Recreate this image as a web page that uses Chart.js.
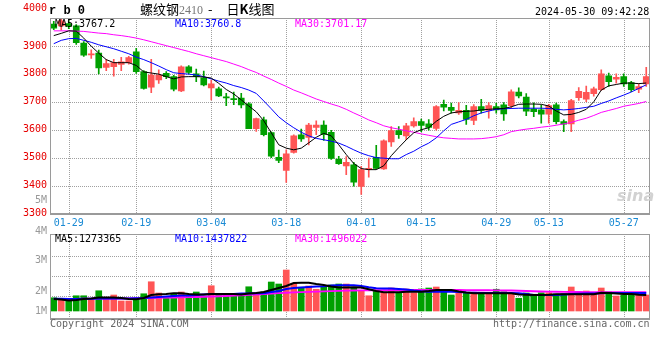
<!DOCTYPE html>
<html lang="zh-CN"><head><meta charset="utf-8">
<script src="https://cdn.jsdelivr.net/npm/chart.js@4.4.1/dist/chart.umd.min.js"></script>
<style>
html,body{margin:0;padding:0;background:#fff;}
body{width:660px;height:360px;position:relative;overflow:hidden;}
canvas{position:absolute;left:0;}
.t{position:absolute;white-space:pre;font-family:'DejaVu Sans Mono',monospace;font-size:10px;line-height:10px;color:#000;}
</style></head><body>
<canvas id="vol" width="660" height="140" style="top:190px"></canvas>
<canvas id="main" width="660" height="232" style="top:0px"></canvas>

<div class="t" style="left:49px;top:5px;font-family:'Liberation Mono',monospace;font-weight:bold;font-size:12px;line-height:12px;">r b 0</div>
<div class="t" style="left:140px;top:2px;font-family:'Noto Sans CJK SC',sans-serif;font-size:13px;line-height:14px;">螺纹钢<span style="font-family:'Liberation Serif',serif;color:#777;font-size:12px;">2410</span><span style="margin:0 14px 0 5px;">-</span>日<b>K</b>线图</div>
<div class="t" style="left:535px;top:7px;">2024-05-30 09:42:28</div>

<div class="t" style="left:55px;top:19px;color:#000;">MA5:3767.2</div>
<div class="t" style="left:175px;top:19px;color:#0000ff;">MA10:3760.8</div>
<div class="t" style="left:295px;top:19px;color:#ff00ff;">MA30:3701.17</div>

<div class="t" style="left:55px;top:234px;color:#000;">MA5:1273365</div>
<div class="t" style="left:175px;top:234px;color:#0000ff;">MA10:1437822</div>
<div class="t" style="left:295px;top:234px;color:#ff00ff;">MA30:1496022</div>

<div class="t" style="left:50px;top:319px;color:#666;">Copyright 2024 SINA.COM</div>
<div class="t" style="left:493px;top:319px;color:#666;">http://finance.sina.com.cn</div>
<div class="t" style="left:617px;top:188px;font-family:'DejaVu Sans',sans-serif;font-style:italic;font-weight:bold;font-size:16px;line-height:16px;color:#d2d2d2;">sina</div>

<script>
// ---- data ----
const dates = ['01-25','01-26','01-29','01-30','01-31','02-01','02-02','02-05','02-06','02-07',
  '02-08','02-19','02-20','02-21','02-22','02-23','02-26','02-27','02-28','02-29',
  '03-01','03-04','03-05','03-06','03-07','03-08','03-11','03-12','03-13','03-14',
  '03-15','03-18','03-19','03-20','03-21','03-22','03-25','03-26','03-27','03-28',
  '03-29','04-01','04-02','04-03','04-08','04-09','04-10','04-11','04-12','04-15',
  '04-16','04-17','04-18','04-19','04-22','04-23','04-24','04-25','04-26','04-29',
  '04-30','05-06','05-07','05-08','05-09','05-10','05-13','05-14','05-15','05-16',
  '05-17','05-20','05-21','05-22','05-23','05-24','05-27','05-28','05-29','05-30'];
const tickDates = ['01-29','02-19','03-04','03-18','04-01','04-15','04-29','05-13','05-27'];

const open = [3978,3972,3980,3972,3910,3868,3874,3823,3826,3834,
  3840,3879,3808,3752,3778,3802,3790,3739,3825,3800,
  3786,3750,3746,3718,3711,3713,3693,3604,3635,3590,
  3501,3454,3519,3582,3572,3608,3617,3591,3495,3470,
  3474,3397,3458,3501,3460,3556,3597,3578,3614,3629,
  3621,3605,3691,3680,3660,3669,3633,3683,3669,3683,
  3689,3686,3735,3717,3674,3671,3656,3689,3629,3621,
  3715,3709,3729,3743,3793,3781,3790,3769,3745,3764];
const high = [3988,3998,3990,3976,3916,3886,3885,3852,3852,3859,
  3863,3891,3812,3852,3814,3808,3795,3829,3830,3817,
  3810,3778,3753,3730,3735,3730,3697,3642,3645,3592,
  3527,3528,3582,3602,3623,3632,3632,3598,3505,3504,
  3483,3469,3498,3544,3564,3611,3611,3623,3643,3638,
  3636,3686,3706,3695,3697,3687,3690,3709,3697,3695,
  3697,3743,3750,3729,3696,3688,3691,3695,3635,3709,
  3751,3756,3753,3814,3803,3800,3800,3773,3764,3823];
const low = [3958,3956,3962,3905,3862,3855,3800,3811,3792,3811,
  3835,3802,3745,3733,3766,3783,3739,3736,3800,3772,
  3757,3707,3718,3686,3690,3678,3604,3594,3578,3500,
  3482,3411,3516,3558,3546,3582,3562,3494,3476,3439,
  3398,3368,3430,3459,3458,3540,3569,3564,3609,3593,
  3598,3598,3667,3659,3655,3619,3618,3659,3641,3659,
  3633,3675,3714,3650,3647,3623,3623,3621,3593,3593,
  3705,3700,3720,3741,3755,3767,3755,3736,3733,3755];
const close = [3964,3990,3970,3912,3867,3871,3821,3837,3840,3843,
  3858,3808,3748,3796,3796,3790,3745,3825,3805,3790,
  3760,3764,3721,3714,3708,3689,3604,3640,3582,3505,
  3490,3514,3578,3567,3617,3617,3583,3497,3478,3483,
  3412,3457,3462,3461,3560,3597,3582,3614,3629,3615,
  3608,3683,3681,3669,3669,3637,3683,3669,3686,3671,
  3657,3736,3721,3666,3665,3656,3686,3629,3620,3704,
  3737,3734,3746,3800,3772,3788,3764,3743,3754,3790];

const ma5 = [3937,3945,3954,3953,3928,3899,3874,3851,3840,3840,
  3840,3830,3807,3803,3799,3790,3782,3789,3790,3790,
  3789,3785,3766,3744,3728,3707,3685,3664,3632,3589,
  3546,3534,3528,3534,3553,3573,3587,3578,3546,3511,
  3479,3461,3457,3457,3471,3507,3536,3564,3589,3600,
  3607,3630,3648,3660,3664,3666,3667,3671,3673,3675,
  3676,3682,3691,3692,3692,3691,3685,3667,3653,3655,
  3662,3673,3700,3742,3757,3762,3767,3767,3765,3767.2];
const ma10 = [3908,3920,3926,3927,3920,3913,3904,3897,3890,3881,
  3872,3860,3851,3840,3828,3815,3804,3801,3799,3796,
  3790,3782,3774,3767,3758,3751,3742,3730,3703,3675,
  3646,3625,3607,3591,3578,3569,3564,3559,3552,3541,
  3528,3516,3507,3500,3498,3496,3496,3511,3523,3539,
  3552,3571,3596,3619,3628,3637,3650,3660,3667,3673,
  3675,3676,3677,3677,3677,3677,3676,3673,3671,3673,
  3676,3680,3684,3694,3703,3714,3724,3735,3748,3760.8];
const ma30 = [3954,3954,3954,3953,3952,3949,3946,3944,3940,3937,
  3933,3928,3922,3915,3908,3901,3894,3887,3880,3872,
  3865,3858,3851,3844,3835,3826,3815,3805,3792,3780,
  3767,3755,3742,3732,3721,3710,3701,3692,3684,3673,
  3660,3648,3635,3625,3614,3607,3602,3596,3591,3585,
  3580,3575,3571,3569,3567,3567,3567,3568,3571,3575,
  3582,3593,3598,3602,3605,3609,3612,3616,3621,3626,
  3634,3641,3651,3662,3669,3676,3684,3689,3694,3701.17];

// volume in millions of lots
const volume = [1.06,0.94,0.94,1.22,1.22,0.94,1.62,1.02,1.28,0.80,
  0.80,0.96,1.38,2.34,1.44,1.14,1.42,1.52,1.14,1.52,
  1.14,2.02,1.30,1.34,1.36,1.34,1.94,1.42,1.52,2.32,
  2.16,3.28,2.22,1.90,2.00,1.74,1.90,2.08,2.16,2.16,
  1.90,1.62,1.22,1.62,1.52,1.84,1.50,1.76,1.46,1.76,
  1.84,1.92,1.70,1.28,1.44,1.44,1.50,1.50,1.42,1.74,
  1.54,1.34,1.02,1.44,1.34,1.46,1.46,1.36,1.38,1.92,
  1.52,1.60,1.38,1.84,1.52,1.20,1.28,1.38,1.34,1.28];
const volMa5 = [0.96,0.92,0.84,0.88,0.96,1.00,1.08,1.08,1.08,1.04,
  0.96,0.94,1.04,1.28,1.34,1.36,1.42,1.42,1.36,1.32,
  1.32,1.36,1.36,1.36,1.36,1.32,1.40,1.44,1.52,1.68,
  1.84,2.00,2.24,2.26,2.26,2.16,2.08,1.96,1.88,1.88,
  1.90,1.88,1.74,1.60,1.50,1.50,1.50,1.54,1.54,1.54,
  1.60,1.68,1.68,1.68,1.56,1.48,1.42,1.42,1.42,1.42,
  1.42,1.42,1.32,1.30,1.28,1.28,1.30,1.34,1.34,1.34,
  1.34,1.34,1.34,1.46,1.44,1.40,1.36,1.36,1.30,1.273];
const volMa10 = [0.98,0.98,0.97,0.97,0.98,0.98,1.00,1.00,1.00,1.00,
  1.00,1.02,1.04,1.08,1.12,1.16,1.20,1.24,1.24,1.28,
  1.32,1.36,1.36,1.36,1.36,1.40,1.40,1.42,1.42,1.52,
  1.60,1.76,1.84,1.88,1.92,1.96,1.98,2.04,2.06,2.06,
  2.06,2.00,1.90,1.82,1.80,1.80,1.76,1.72,1.64,1.58,
  1.54,1.54,1.54,1.54,1.52,1.48,1.46,1.44,1.44,1.44,
  1.44,1.44,1.42,1.36,1.28,1.28,1.28,1.28,1.32,1.36,
  1.38,1.40,1.40,1.42,1.44,1.44,1.44,1.44,1.44,1.438];
const volMa30 = [0.96,0.96,0.97,0.97,0.98,0.98,0.99,0.99,1.00,1.00,
  1.01,1.02,1.03,1.04,1.05,1.07,1.08,1.10,1.11,1.12,
  1.14,1.16,1.18,1.20,1.23,1.26,1.29,1.32,1.36,1.40,
  1.43,1.46,1.49,1.51,1.53,1.55,1.57,1.59,1.61,1.63,
  1.64,1.65,1.66,1.66,1.67,1.67,1.67,1.68,1.68,1.68,
  1.68,1.68,1.68,1.68,1.68,1.67,1.67,1.66,1.66,1.65,
  1.65,1.64,1.62,1.60,1.58,1.56,1.55,1.54,1.53,1.52,
  1.52,1.51,1.51,1.50,1.50,1.50,1.50,1.50,1.50,1.496];

const priceMin = 3300, priceMax = 4000;
const priceTickLabels = ['3300','3400','3500','3600','3700','3800','3900','4000'];
const priceTickPos = [3300, 3400, 3500, 3600, 3700, 3800, 3900, 4033]; // top label sits above the frame, as in the source
const priceGrid = [3400, 3500, 3600, 3700, 3800, 3900];
const volMin = -0.64, volMax = 6.16;
const volTickValues = [-0.04, 1.6, 4.04, 6.4, 8.84];
const volTickLabels = ['1M', '2M', '3M', '4M', '5M'];
const volGridValues = [1.22, 2.82, 4.42];

// ---- styles ----
const RED = '#ff5555', GREEN = '#00a000', GRID = '#a0a0a0', AXIS = '#9a9a9a';
const MONO = "'DejaVu Sans Mono', monospace";
const candleColors = close.map((c, i) => c >= open[i] ? RED : GREEN);
const gridIdx = tickDates.map(d => dates.indexOf(d));

function framePlugin() {
  return { id: 'frame', afterDraw(chart) {
    const { ctx, chartArea: a } = chart;
    const l = Math.round(a.left), r = Math.round(a.right), t = Math.round(a.top), b = Math.round(a.bottom);
    ctx.save(); ctx.fillStyle = AXIS;
    ctx.fillRect(l, t, 1, b - t);
    ctx.fillRect(r - 1, t, 1, b - t);
    ctx.fillRect(l, t, r - l, 1);
    ctx.fillRect(l, b - 1, r - l, 2);
    ctx.restore();
  } };
}

// dotted grid drawn through the chart's own scales
function dotGridPlugin(yValues) {
  return { id: 'dotGrid', beforeDatasetsDraw(chart) {
    const { ctx, chartArea: a, scales } = chart;
    ctx.save(); ctx.strokeStyle = GRID; ctx.lineWidth = 1; ctx.setLineDash([1, 1]);
    gridIdx.forEach(i => {
      const x = Math.round(scales.x.getPixelForValue(i)) + 0.5;
      ctx.beginPath(); ctx.moveTo(x, a.top); ctx.lineTo(x, a.bottom); ctx.stroke();
    });
    yValues.forEach(v => {
      const y = Math.round(scales.y.getPixelForValue(v)) + 0.5;
      ctx.beginPath(); ctx.moveTo(a.left, y); ctx.lineTo(a.right, y); ctx.stroke();
    });
    ctx.restore();
  } };
}

function xScale(showLabels, h) {
  return {
    type: 'category', offset: true,
    grid: { display: false, drawTicks: false },
    border: { display: false },
    ticks: { display: showLabels, autoSkip: false, maxRotation: 0, minRotation: 0, padding: 4,
      color: '#1a8ad4', font: { family: MONO, size: 10 },
      callback: (v, i) => tickDates.includes(dates[i]) ? dates[i] : '' },
    afterFit: s => { s.height = h; }
  };
}

const lineDs = (data, color, w) => ({ type: 'line', data, borderColor: color, borderWidth: w,
  pointRadius: 0, fill: false, tension: 0, order: 0 });

new Chart(document.getElementById('main'), {
  type: 'bar',
  data: {
    labels: dates,
    datasets: [
      lineDs(ma5, '#000000', 1),
      lineDs(ma10, '#0000ff', 1),
      lineDs(ma30, '#ff00ff', 1),
      { data: open.map((o, i) => [o, close[i]]), backgroundColor: candleColors,
        barThickness: 6, minBarLength: 1, grouped: false, order: 1 },
      { data: low.map((l, i) => [l, high[i]]), backgroundColor: candleColors,
        barThickness: 1, grouped: false, order: 2 }
    ]
  },
  options: {
    responsive: false, animation: false, devicePixelRatio: 1,
    layout: { padding: { top: 18, right: 10, left: 0, bottom: 0 } },
    plugins: { legend: { display: false }, tooltip: { enabled: false } },
    scales: {
      x: xScale(true, 18.5),
      y: { min: priceMin, max: priceMax,
        afterBuildTicks: s => { s.ticks = priceTickPos.map(v => ({ value: v })); },
        ticks: { autoSkip: false, padding: 3, color: '#e60000', font: { family: MONO, size: 10 },
          callback: v => { const k = priceTickPos.indexOf(v); return k >= 0 ? priceTickLabels[k] : ''; } },
        grid: { display: false, drawTicks: false },
        border: { display: false },
        afterFit: s => { s.width = 50; } }
    }
  },
  plugins: [dotGridPlugin(priceGrid), framePlugin()]
});

new Chart(document.getElementById('vol'), {
  type: 'bar',
  data: {
    labels: dates,
    datasets: [
      lineDs(volMa5, '#000000', 2),
      lineDs(volMa10, '#0000ff', 2),
      lineDs(volMa30, '#ff00ff', 2),
      { data: volume, backgroundColor: candleColors, barThickness: 6, grouped: false, order: 1 }
    ]
  },
  options: {
    responsive: false, animation: false, devicePixelRatio: 1,
    layout: { padding: { top: 44, right: 10, left: 0, bottom: 7 } },
    plugins: { legend: { display: false }, tooltip: { enabled: false } },
    scales: {
      x: xScale(false, 4),
      y: { min: volMin, max: volMax,
        afterBuildTicks: s => { s.ticks = volTickValues.map(v => ({ value: v })); },
        ticks: { autoSkip: false, padding: 3, color: '#999999', font: { family: MONO, size: 10 },
          callback: v => { const k = volTickValues.indexOf(v); return k >= 0 ? volTickLabels[k] : ''; } },
        grid: { display: false, drawTicks: false },
        border: { display: false },
        afterFit: s => { s.width = 50; } }
    }
  },
  plugins: [dotGridPlugin(volGridValues), framePlugin()]
});
</script>
</body></html>
